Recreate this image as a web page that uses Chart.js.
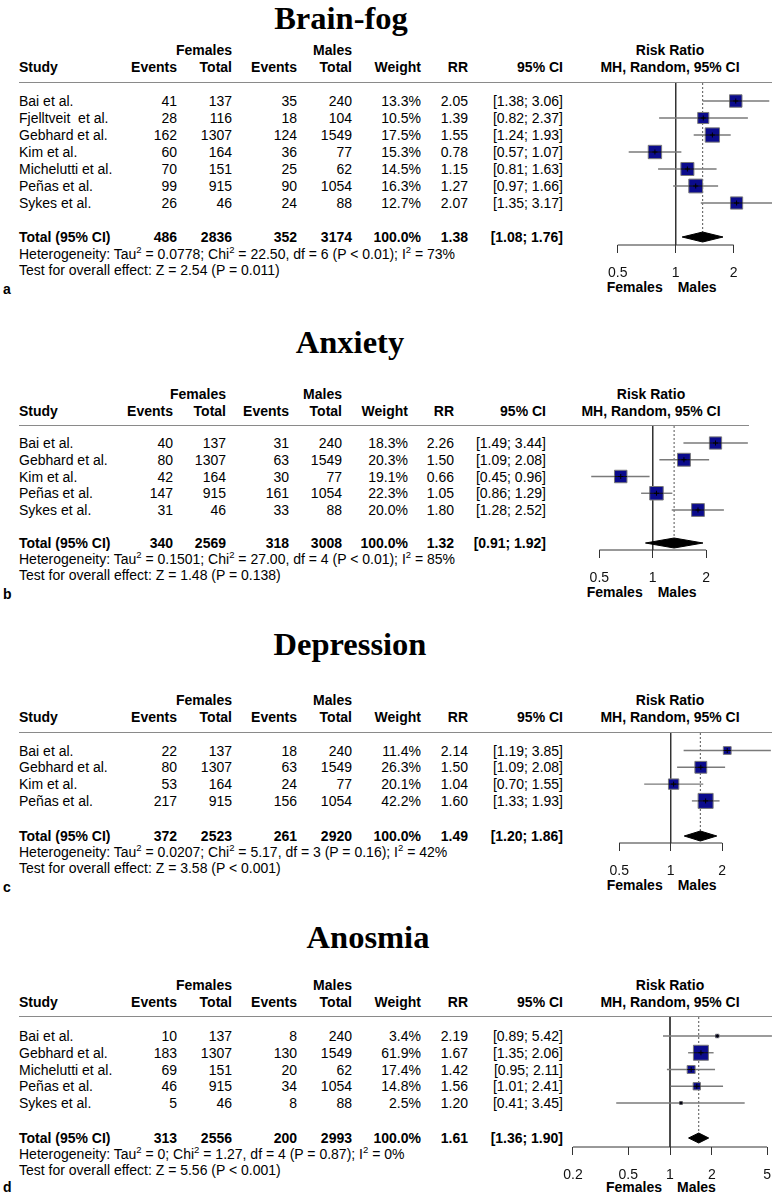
<!DOCTYPE html>
<html><head><meta charset="utf-8">
<script src="https://cdn.jsdelivr.net/npm/chart.js@4.4.1/dist/chart.umd.min.js"></script>
<style>
html,body{margin:0;padding:0;background:#fff;}
#page{position:relative;width:772px;height:1194px;overflow:hidden;background:#fff;font-family:"Liberation Sans",Arial,sans-serif;font-size:14px;color:#000;}
.t{position:absolute;white-space:pre;line-height:12px;height:12px;}
.b{font-weight:bold;}
.lt{font-size:14px;font-weight:bold;}
.title{position:absolute;font-family:"Liberation Serif","Times New Roman",serif;font-weight:bold;font-size:32.5px;line-height:24px;height:24px;white-space:pre;text-align:center;width:400px;}
.sup{font-size:9.5px;position:relative;top:-6px;}
.hline{position:absolute;height:0;border-top:1.5px solid #8a8a8a;}
canvas{position:absolute;}
</style></head><body><div id="page"></div>
<script>
// ---------------- DATA ----------------
// Panel a: Brain-fog
const fogTitle = 'Brain-fog';
const fogStudies = ['Bai et al.', 'Fjelltveit  et al.', 'Gebhard et al.', 'Kim et al.', 'Michelutti et al.', 'Peñas et al.', 'Sykes et al.'];
const fogFemEvents = [41, 28, 162, 60, 70, 99, 26];
const fogFemTotal = [137, 116, 1307, 164, 151, 915, 46];
const fogMalEvents = [35, 18, 124, 36, 25, 90, 24];
const fogMalTotal = [240, 104, 1549, 77, 62, 1054, 88];
const fogWeight = [13.3, 10.5, 17.5, 15.3, 14.5, 16.3, 12.7];
const fogRR = [2.05, 1.39, 1.55, 0.78, 1.15, 1.27, 2.07];
const fogLower = [1.38, 0.82, 1.24, 0.57, 0.81, 0.97, 1.35];
const fogUpper = [3.06, 2.37, 1.93, 1.07, 1.63, 1.66, 3.17];
const fogTotals = [486, 2836, 352, 3174];
const fogPooled = [1.38, 1.08, 1.76];
const fogHet = 'Heterogeneity: Tau<span class="sup">2</span> = 0.0778; Chi<span class="sup">2</span> = 22.50, df = 6 (P &lt; 0.01); I<span class="sup">2</span> = 73%';
const fogTest = 'Test for overall effect: Z = 2.54 (P = 0.011)';
const fogTicks = [0.5, 1, 2];

// Panel b: Anxiety
const anxTitle = 'Anxiety';
const anxStudies = ['Bai et al.', 'Gebhard et al.', 'Kim et al.', 'Peñas et al.', 'Sykes et al.'];
const anxFemEvents = [40, 80, 42, 147, 31];
const anxFemTotal = [137, 1307, 164, 915, 46];
const anxMalEvents = [31, 63, 30, 161, 33];
const anxMalTotal = [240, 1549, 77, 1054, 88];
const anxWeight = [18.3, 20.3, 19.1, 22.3, 20.0];
const anxRR = [2.26, 1.50, 0.66, 1.05, 1.80];
const anxLower = [1.49, 1.09, 0.45, 0.86, 1.28];
const anxUpper = [3.44, 2.08, 0.96, 1.29, 2.52];
const anxTotals = [340, 2569, 318, 3008];
const anxPooled = [1.32, 0.91, 1.92];
const anxHet = 'Heterogeneity: Tau<span class="sup">2</span> = 0.1501; Chi<span class="sup">2</span> = 27.00, df = 4 (P &lt; 0.01); I<span class="sup">2</span> = 85%';
const anxTest = 'Test for overall effect: Z = 1.48 (P = 0.138)';
const anxTicks = [0.5, 1, 2];

// Panel c: Depression
const depTitle = 'Depression';
const depStudies = ['Bai et al.', 'Gebhard et al.', 'Kim et al.', 'Peñas et al.'];
const depFemEvents = [22, 80, 53, 217];
const depFemTotal = [137, 1307, 164, 915];
const depMalEvents = [18, 63, 24, 156];
const depMalTotal = [240, 1549, 77, 1054];
const depWeight = [11.4, 26.3, 20.1, 42.2];
const depRR = [2.14, 1.50, 1.04, 1.60];
const depLower = [1.19, 1.09, 0.70, 1.33];
const depUpper = [3.85, 2.08, 1.55, 1.93];
const depTotals = [372, 2523, 261, 2920];
const depPooled = [1.49, 1.20, 1.86];
const depHet = 'Heterogeneity: Tau<span class="sup">2</span> = 0.0207; Chi<span class="sup">2</span> = 5.17, df = 3 (P = 0.16); I<span class="sup">2</span> = 42%';
const depTest = 'Test for overall effect: Z = 3.58 (P &lt; 0.001)';
const depTicks = [0.5, 1, 2];

// Panel d: Anosmia
const anoTitle = 'Anosmia';
const anoStudies = ['Bai et al.', 'Gebhard et al.', 'Michelutti et al.', 'Peñas et al.', 'Sykes et al.'];
const anoFemEvents = [10, 183, 69, 46, 5];
const anoFemTotal = [137, 1307, 151, 915, 46];
const anoMalEvents = [8, 130, 20, 34, 8];
const anoMalTotal = [240, 1549, 62, 1054, 88];
const anoWeight = [3.4, 61.9, 17.4, 14.8, 2.5];
const anoRR = [2.19, 1.67, 1.42, 1.56, 1.20];
const anoLower = [0.89, 1.35, 0.95, 1.01, 0.41];
const anoUpper = [5.42, 2.06, 2.11, 2.41, 3.45];
const anoTotals = [313, 2556, 200, 2993];
const anoPooled = [1.61, 1.36, 1.90];
const anoHet = 'Heterogeneity: Tau<span class="sup">2</span> = 0; Chi<span class="sup">2</span> = 1.27, df = 4 (P = 0.87); I<span class="sup">2</span> = 0%';
const anoTest = 'Test for overall effect: Z = 5.56 (P &lt; 0.001)';
const anoTicks = [0.2, 0.5, 1, 2, 5];

// ---------------- LAYOUT (pixels) ----------------
const colsA = {study: 19, fe: 177, ft: 232, me: 297, mt: 352, w: 421, rr: 468, ci: 563, head: 670};
const colsB = {study: 19, fe: 173, ft: 226, me: 289, mt: 342, w: 408, rr: 454, ci: 546, head: 651};
const layoutA = {letter: 'a', titleC: 341, titleBase: 29, femY: 50, hdrY: 67, lineY: 83, lineR: 772, rowFirst: 101, sp: 17, totalY: 237, hetY: 254, testY: 270, letterY: 289, axisY: 245, x1: 670.7, perLog2: 61, plotL: 575, plotR: 772, fmY: 287, box: 14.3, cols: colsA};
const layoutB = {letter: 'b', titleC: 350, titleBase: 353, femY: 394, hdrY: 411, lineY: 426, lineR: 749, rowFirst: 443, sp: 16.75, totalY: 543, hetY: 559, testY: 575, letterY: 594, axisY: 550, x1: 650.7, perLog2: 54.5, plotL: 560, plotR: 749, fmY: 592, box: 13.5, cols: colsB};
const layoutC = {letter: 'c', titleC: 350, titleBase: 655, femY: 700, hdrY: 717, lineY: 733, lineR: 772, rowFirst: 750.5, sp: 16.8, totalY: 836, hetY: 852, testY: 868, letterY: 887, axisY: 843, x1: 670.7, perLog2: 51.5, plotL: 575, plotR: 772, fmY: 885, box: 15, cols: colsA};
const layoutD = {letter: 'd', titleC: 368, titleBase: 948, femY: 985, hdrY: 1002, lineY: 1017, lineR: 772, rowFirst: 1036, sp: 16.75, totalY: 1138, hetY: 1154, testY: 1170, letterY: 1187, axisY: 1147, x1: 670, perLog2: 41.8, plotL: 565, plotR: 772, fmY: 1187, box: 15, cols: colsA};

const panels = [
  {title: fogTitle, studies: fogStudies, fe: fogFemEvents, ft: fogFemTotal, me: fogMalEvents, mt: fogMalTotal, w: fogWeight, rr: fogRR, lo: fogLower, hi: fogUpper, tot: fogTotals, pooled: fogPooled, het: fogHet, test: fogTest, ticks: fogTicks, L: layoutA},
  {title: anxTitle, studies: anxStudies, fe: anxFemEvents, ft: anxFemTotal, me: anxMalEvents, mt: anxMalTotal, w: anxWeight, rr: anxRR, lo: anxLower, hi: anxUpper, tot: anxTotals, pooled: anxPooled, het: anxHet, test: anxTest, ticks: anxTicks, L: layoutB},
  {title: depTitle, studies: depStudies, fe: depFemEvents, ft: depFemTotal, me: depMalEvents, mt: depMalTotal, w: depWeight, rr: depRR, lo: depLower, hi: depUpper, tot: depTotals, pooled: depPooled, het: depHet, test: depTest, ticks: depTicks, L: layoutC},
  {title: anoTitle, studies: anoStudies, fe: anoFemEvents, ft: anoFemTotal, me: anoMalEvents, mt: anoMalTotal, w: anoWeight, rr: anoRR, lo: anoLower, hi: anoUpper, tot: anoTotals, pooled: anoPooled, het: anoHet, test: anoTest, ticks: anoTicks, L: layoutD}
];

const page = document.getElementById('page');
const FONT = '"Liberation Sans", Arial, sans-serif';

function txt(s, x, y, align, cls, html) {
  const d = document.createElement('div');
  d.className = 't' + (cls ? ' ' + cls : '');
  if (html) d.innerHTML = s; else d.textContent = s;
  d.style.top = (y - 6) + 'px';
  if (align === 'right') { d.style.left = (x - 300) + 'px'; d.style.width = '300px'; d.style.textAlign = 'right'; }
  else if (align === 'center') { d.style.left = (x - 100) + 'px'; d.style.width = '200px'; d.style.textAlign = 'center'; }
  else d.style.left = x + 'px';
  page.appendChild(d);
  return d;
}
const ci = (a, b) => '[' + a.toFixed(2) + '; ' + b.toFixed(2) + ']';

function buildPanel(P) {
  const L = P.L, C = L.cols, n = P.studies.length;
  // title
  const t = document.createElement('div');
  t.className = 'title'; t.textContent = P.title;
  t.style.left = (L.titleC - 200) + 'px'; t.style.top = (L.titleBase - 23) + 'px';
  page.appendChild(t);
  // headers
  txt('Females', C.ft, L.femY, 'right', 'b');
  txt('Males', C.mt, L.femY, 'right', 'b');
  txt('Risk Ratio', C.head, L.femY, 'center', 'b');
  txt('Study', C.study, L.hdrY, 'left', 'b');
  txt('Events', C.fe, L.hdrY, 'right', 'b');
  txt('Total', C.ft, L.hdrY, 'right', 'b');
  txt('Events', C.me, L.hdrY, 'right', 'b');
  txt('Total', C.mt, L.hdrY, 'right', 'b');
  txt('Weight', C.w, L.hdrY, 'right', 'b');
  txt('RR', C.rr, L.hdrY, 'right', 'b');
  txt('95% CI', C.ci, L.hdrY, 'right', 'b');
  txt('MH, Random, 95% CI', C.head, L.hdrY, 'center', 'b');
  const hl = document.createElement('div');
  hl.className = 'hline';
  hl.style.left = C.study + 'px'; hl.style.width = (L.lineR - C.study) + 'px'; hl.style.top = (L.lineY - 1) + 'px';
  page.appendChild(hl);
  // rows
  for (let i = 0; i < n; i++) {
    const y = L.rowFirst + i * L.sp;
    txt(P.studies[i], C.study, y, 'left');
    txt(String(P.fe[i]), C.fe, y, 'right');
    txt(String(P.ft[i]), C.ft, y, 'right');
    txt(String(P.me[i]), C.me, y, 'right');
    txt(String(P.mt[i]), C.mt, y, 'right');
    txt(P.w[i].toFixed(1) + '%', C.w, y, 'right');
    txt(P.rr[i].toFixed(2), C.rr, y, 'right');
    txt(ci(P.lo[i], P.hi[i]), C.ci, y, 'right');
  }
  // total row
  txt('Total (95% CI)', C.study, L.totalY, 'left', 'b');
  txt(String(P.tot[0]), C.fe, L.totalY, 'right', 'b');
  txt(String(P.tot[1]), C.ft, L.totalY, 'right', 'b');
  txt(String(P.tot[2]), C.me, L.totalY, 'right', 'b');
  txt(String(P.tot[3]), C.mt, L.totalY, 'right', 'b');
  txt('100.0%', C.w, L.totalY, 'right', 'b');
  txt(P.pooled[0].toFixed(2), C.rr, L.totalY, 'right', 'b');
  txt(ci(P.pooled[1], P.pooled[2]), C.ci, L.totalY, 'right', 'b');
  txt(P.het, C.study, L.hetY, 'left', '', true);
  txt(P.test, C.study, L.testY, 'left', '', true);
  txt(L.letter, 3, L.letterY, 'left', 'lt');
  // Females / Males under axis
  txt('Females', L.x1 - 8, L.fmY, 'right', 'b');
  txt('Males', L.x1 + 7, L.fmY, 'left', 'b');

  // ---------- chart ----------
  const sp = L.sp;
  const lastY = L.rowFirst + (n - 1) * sp;
  const totRow = n + (L.totalY - lastY) / sp;
  const yTop = 1 - (L.rowFirst - L.lineY) / sp;
  const yBot = totRow + (L.axisY - L.totalY) / sp;
  const dh = 5 / sp;
  const xMin = Math.pow(2, (L.plotL - L.x1) / L.perLog2);
  const xMax = Math.pow(2, (L.plotR - L.x1) / L.perLog2);
  const cLeft = 550, axisH = 40;
  const cv = document.createElement('canvas');
  const W = 772 - cLeft, H = L.axisY - L.lineY + axisH;
  cv.width = W; cv.height = H;
  cv.style.left = cLeft + 'px'; cv.style.top = L.lineY + 'px';
  cv.style.width = W + 'px'; cv.style.height = H + 'px';
  page.appendChild(cv);

  const wMax = Math.max(...P.w);
  const sides = P.w.map(w => L.box * Math.sqrt(w / wMax));
  const rows = P.rr.map((_, i) => i + 1);

  const datasets = [];
  // reference line at RR = 1
  datasets.push({data: [{x: 1, y: yTop}, {x: 1, y: yBot}], showLine: true, borderColor: '#333', borderWidth: 1, pointRadius: 0, order: 6});
  // dotted pooled line
  datasets.push({data: [{x: P.pooled[0], y: yTop}, {x: P.pooled[0], y: totRow - dh}], showLine: true, borderColor: '#555', borderWidth: 1, borderDash: [2, 2], pointRadius: 0, order: 5});
  // CI lines
  P.lo.forEach((lo, i) => {
    datasets.push({data: [{x: lo, y: rows[i]}, {x: P.hi[i], y: rows[i]}], showLine: true, borderColor: '#7a7a7a', borderWidth: 1.4, pointRadius: 0, order: 4});
  });
  // squares
  datasets.push({data: P.rr.map((v, i) => ({x: v, y: rows[i]})), pointStyle: 'rect',
    pointRadius: sides.map(s => s / (2 * Math.SQRT1_2)), backgroundColor: '#0b0b8c', borderColor: '#7a7a7a', borderWidth: 1, order: 2});
  // inner line + cross
  datasets.push({data: P.rr.map((v, i) => ({x: v, y: rows[i]})), pointStyle: 'line',
    pointRadius: sides.map(s => s / 2), borderColor: '#111', borderWidth: 1, order: 1});
  datasets.push({data: P.rr.map((v, i) => ({x: v, y: rows[i]})), pointStyle: 'cross',
    pointRadius: sides.map(s => Math.min(2.5, s / 2)), borderColor: '#000', borderWidth: 1, order: 0});
  // pooled diamond (two halves filled to the total row)
  datasets.push({data: [{x: P.pooled[1], y: totRow}, {x: P.pooled[0], y: totRow - dh}, {x: P.pooled[2], y: totRow}],
    showLine: true, borderColor: '#000', borderWidth: 1, backgroundColor: '#000', fill: {value: totRow}, pointRadius: 0, tension: 0, order: 3});
  datasets.push({data: [{x: P.pooled[1], y: totRow}, {x: P.pooled[0], y: totRow + dh}, {x: P.pooled[2], y: totRow}],
    showLine: true, borderColor: '#000', borderWidth: 1, backgroundColor: '#000', fill: {value: totRow}, pointRadius: 0, tension: 0, order: 3});
  // axis line between first and last tick
  const tickVals = P.ticks;
  datasets.push({data: [{x: tickVals[0], y: yBot}, {x: tickVals[tickVals.length - 1], y: yBot}],
    showLine: true, borderColor: '#333', borderWidth: 1, pointRadius: 0, order: 7, clip: false});

  new Chart(cv, {
    type: 'scatter',
    data: {datasets},
    options: {
      responsive: false, animation: false, maintainAspectRatio: false,
      events: [],
      layout: {autoPadding: false, padding: {left: L.plotL - cLeft, right: 772 - L.plotR, top: 0, bottom: 0}},
      plugins: {legend: {display: false}, tooltip: {enabled: false}},
      scales: {
        x: {
          type: 'logarithmic', min: xMin, max: xMax,
          afterBuildTicks: s => { s.ticks = tickVals.map(v => ({value: v})); },
          afterFit: s => { s.height = axisH; s.paddingLeft = 0; s.paddingRight = 0; },
          ticks: {autoSkip: false, maxRotation: 0, minRotation: 0, padding: 12, color: '#111',
            font: {family: FONT, size: 14}, callback: v => String(v)},
          grid: {drawOnChartArea: false, drawTicks: true, tickLength: 8, color: '#333', lineWidth: 1},
          border: {display: false}
        },
        y: {type: 'linear', reverse: true, min: yTop, max: yBot, display: false}
      }
    }
  });
}

panels.forEach(buildPanel);
</script></body></html>
